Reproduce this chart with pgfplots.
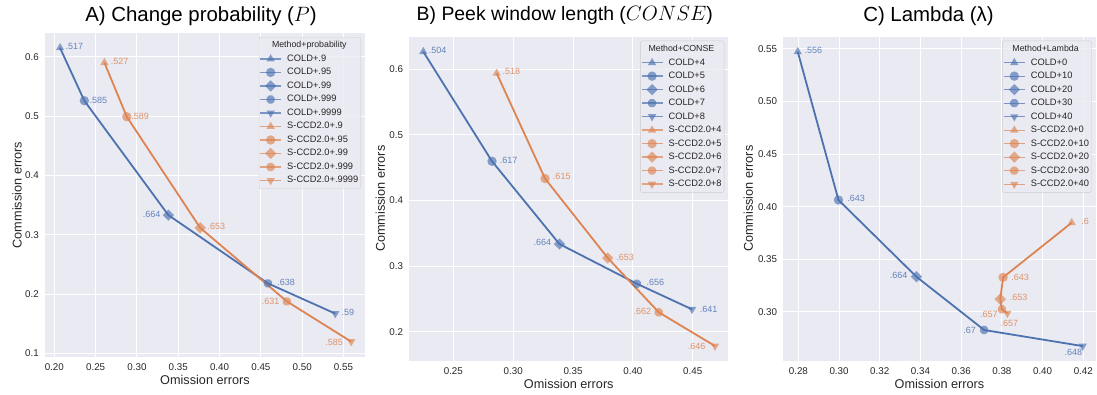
\documentclass[border=0pt]{standalone}
\usepackage{fontspec}
\setmainfont{Liberation Sans}
\usepackage{pgfplots}
\pgfplotsset{compat=1.18}
\definecolor{sbblue}{HTML}{4C72B0}
\definecolor{sborange}{HTML}{DD8452}
\definecolor{sbbg}{HTML}{EAEAF2}
\definecolor{sbtext}{HTML}{262626}
\definecolor{legdraw}{HTML}{CCCCCC}

\pgfdeclareplotmark{oct*}{%
  \pgfpathmoveto{\pgfpointpolar{22.5}{\pgfplotmarksize}}%
  \pgfpathlineto{\pgfpointpolar{67.5}{\pgfplotmarksize}}%
  \pgfpathlineto{\pgfpointpolar{112.5}{\pgfplotmarksize}}%
  \pgfpathlineto{\pgfpointpolar{157.5}{\pgfplotmarksize}}%
  \pgfpathlineto{\pgfpointpolar{202.5}{\pgfplotmarksize}}%
  \pgfpathlineto{\pgfpointpolar{247.5}{\pgfplotmarksize}}%
  \pgfpathlineto{\pgfpointpolar{292.5}{\pgfplotmarksize}}%
  \pgfpathlineto{\pgfpointpolar{337.5}{\pgfplotmarksize}}%
  \pgfpathclose
  \pgfusepathqfillstroke}

\tikzset{mk/.style={solid, draw opacity=0, fill opacity=0.65}}

\newcommand{\lblfont}{\fontsize{9}{10}\selectfont}
\newcommand{\legtitle}[2]{\fontsize{8.8}{10}\selectfont\hspace*{-#1}#2}

\pgfplotsset{
  sbaxis/.style={
    scale only axis,
    clip=false,
    axis background/.style={fill=sbbg},
    axis line style={draw=none},
    major tick length=0pt,
    grid=major,
    grid style={white, line width=1pt},
    tick label style={font=\fontsize{9.8}{11}\selectfont, text=sbtext},
    /pgf/number format/assume math mode=true,
    xticklabel style={inner sep=0pt, anchor=north, yshift=-6.5pt},
    yticklabel style={inner sep=0pt, anchor=east, xshift=-6pt},
    every axis x label/.style={at={(axis description cs:0.5,0)}, yshift=-23pt, anchor=center, font=\fontsize{12.7}{14}\selectfont, text=sbtext},
    xlabel={Omission errors},
    ylabel={Commission errors},
    legend cell align=left,
    legend style={at={(axis description cs:1,1)}, anchor=north east, xshift=-4pt, yshift=-4pt,
      fill=sbbg, fill opacity=0.8, text opacity=1, draw=legdraw, draw opacity=1,
      rounded corners=2pt, font=\fontsize{9.3}{11}\selectfont, text=sbtext,
      inner xsep=0.5pt, inner ysep=1.5pt, row sep=0pt, column sep=3.4pt,
      nodes={inner xsep=2pt, inner ysep=2.25pt, text height=7pt, text depth=2pt}},
    legend image code/.code={\draw[mark repeat=2,mark phase=2] plot coordinates {(0pt,0pt)(10.5pt,0pt)(21pt,0pt)};},
  },
  cold/.style={color=sbblue, draw opacity=0.7, line width=1.3pt},
  sccd/.style={color=sborange, draw opacity=0.7, line width=1.3pt},
  mtri/.style={mark=triangle*, mark size=4.8pt, mark options={mk}},
  mcirc/.style={mark=*, mark size=4.7pt, mark options={mk}},
  mdia/.style={mark=square*, mark size=4pt, mark options={mk, rotate=45}},
  mhex/.style={mark=oct*, mark size=4.4pt, mark options={mk}},
  mtrid/.style={mark=triangle*, mark size=4.8pt, mark options={mk, rotate=180}},
  cline/.style={color=sbblue, line width=1.8pt, forget plot, no marks},
  sline/.style={color=sborange, line width=1.8pt, forget plot, no marks},
}

% series style, marker style, coordinate, label, anchor, xshift, yshift
\newcommand{\pt}[7]{%
  \addplot[#1, #2, nodes near coords={#4},
    every node near coord/.style={anchor=#5, inner sep=0pt, xshift=#6, yshift=#7, font=\lblfont, text opacity=0.85}]
    coordinates {#3};}

\begin{document}
\begin{tikzpicture}

% ---------------- A ----------------
\begin{axis}[sbaxis, at={(45pt,37pt)}, anchor=south west, width=320pt, height=324pt,
  xmin=0.1887, xmax=0.576, ymin=0.0938, ymax=0.640,
  xtick={0.20,0.25,0.30,0.35,0.40,0.45,0.50,0.55},
  ytick={0.1,0.2,0.3,0.4,0.5,0.6},
  xticklabel style={/pgf/number format/fixed, /pgf/number format/fixed zerofill, /pgf/number format/precision=2},
  yticklabel style={/pgf/number format/fixed, /pgf/number format/fixed zerofill, /pgf/number format/precision=1},
  every axis y label/.style={at={(axis description cs:0,0.5)}, xshift=-28pt, rotate=90, anchor=center, font=\fontsize{12.7}{14}\selectfont, text=sbtext},
  title={A) Change probability ($P$)},
  every axis title/.style={at={(axis description cs:0.5,1)}, anchor=base, xshift=-4pt, yshift=11.3pt, font=\fontsize{20.4}{23}\selectfont, text=black},
]
\addlegendimage{empty legend}\addlegendentry{\legtitle{15.2pt}{Method+probability}}
\addplot[cline] coordinates {(0.2069,0.615)(0.2363,0.5258)(0.338,0.333)(0.4584,0.218)(0.540,0.167)};
\addplot[sline] coordinates {(0.2606,0.590)(0.2877,0.4988)(0.3765,0.3116)(0.4814,0.1876)(0.5593,0.1197)};
\pt{cold}{mtri}{(0.2069,0.615)}{.517}{west}{5pt}{1.5pt}\addlegendentry{COLD+.9}
\pt{cold}{mcirc}{(0.2363,0.5258)}{.585}{west}{4.7pt}{0pt}\addlegendentry{COLD+.95}
\pt{cold}{mdia}{(0.338,0.333)}{.664}{east}{-7.3pt}{1pt}\addlegendentry{COLD+.99}
\pt{cold}{mhex}{(0.4584,0.218)}{.638}{west}{9pt}{0.7pt}\addlegendentry{COLD+.999}
\pt{cold}{mtrid}{(0.540,0.167)}{.59}{west}{5.7pt}{0.7pt}\addlegendentry{COLD+.9999}
\pt{sccd}{mtri}{(0.2606,0.590)}{.527}{west}{5.7pt}{1pt}\addlegendentry{S-CCD2.0+.9}
\pt{sccd}{mcirc}{(0.2877,0.4988)}{.589}{west}{4pt}{0pt}\addlegendentry{S-CCD2.0+.95}
\pt{sccd}{mdia}{(0.3765,0.3116)}{.653}{west}{6.7pt}{1pt}\addlegendentry{S-CCD2.0+.99}
\pt{sccd}{mhex}{(0.4814,0.1876)}{.631}{east}{-6.7pt}{0pt}\addlegendentry{S-CCD2.0+.999}
\pt{sccd}{mtrid}{(0.5593,0.1197)}{.585}{east}{-7.7pt}{-0.7pt}\addlegendentry{S-CCD2.0+.9999}
\end{axis}

% ---------------- B ----------------
\begin{axis}[sbaxis, at={(409.3pt,33.3pt)}, anchor=south west, width=319pt, height=324pt,
  xmin=0.2132, xmax=0.4797, ymin=0.1558, ymax=0.6497,
  xtick={0.25,0.30,0.35,0.40,0.45},
  ytick={0.2,0.3,0.4,0.5,0.6},
  xticklabel style={/pgf/number format/fixed, /pgf/number format/fixed zerofill, /pgf/number format/precision=2},
  yticklabel style={/pgf/number format/fixed, /pgf/number format/fixed zerofill, /pgf/number format/precision=1},
  every axis y label/.style={at={(axis description cs:0,0.5)}, xshift=-29pt, rotate=90, anchor=center, font=\fontsize{12.7}{14}\selectfont, text=sbtext},
  title={B) Peek window length ($CONSE$)},
  every axis title/.style={at={(axis description cs:0.5,1)}, anchor=base, xshift=-4pt, yshift=16pt, font=\fontsize{19.4}{23}\selectfont, text=black},
]
\addlegendimage{empty legend}\addlegendentry{\legtitle{20.1pt}{Method+CONSE}}
\addplot[cline] coordinates {(0.2249,0.6268)(0.2823,0.4598)(0.3386,0.3337)(0.4032,0.2732)(0.4494,0.2341)};
\addplot[sline] coordinates {(0.2862,0.5939)(0.3266,0.4334)(0.379,0.3124)(0.4216,0.2296)(0.4686,0.1782)};
\pt{cold}{mtri}{(0.2249,0.6268)}{.504}{west}{5pt}{1pt}\addlegendentry{COLD+4}
\pt{cold}{mcirc}{(0.2823,0.4598)}{.617}{west}{7.3pt}{0.7pt}\addlegendentry{COLD+5}
\pt{cold}{mdia}{(0.3386,0.3337)}{.664}{east}{-7.7pt}{1.3pt}\addlegendentry{COLD+6}
\pt{cold}{mhex}{(0.4032,0.2732)}{.656}{west}{9.3pt}{1pt}\addlegendentry{COLD+7}
\pt{cold}{mtrid}{(0.4494,0.2341)}{.641}{west}{7.3pt}{0pt}\addlegendentry{COLD+8}
\pt{sccd}{mtri}{(0.2862,0.5939)}{.518}{west}{5.3pt}{1.7pt}\addlegendentry{S-CCD2.0+4}
\pt{sccd}{mcirc}{(0.3266,0.4334)}{.615}{west}{7.3pt}{1.7pt}\addlegendentry{S-CCD2.0+5}
\pt{sccd}{mdia}{(0.379,0.3124)}{.653}{west}{8pt}{0.3pt}\addlegendentry{S-CCD2.0+6}
\pt{sccd}{mhex}{(0.4216,0.2296)}{.662}{east}{-7pt}{0.7pt}\addlegendentry{S-CCD2.0+7}
\pt{sccd}{mtrid}{(0.4686,0.1782)}{.646}{east}{-9pt}{0pt}\addlegendentry{S-CCD2.0+8}
\end{axis}

% ---------------- C ----------------
\begin{axis}[sbaxis, at={(783.3pt,33.3pt)}, anchor=south west, width=312.4pt, height=324pt,
  xmin=0.2726, xmax=0.4261, ymin=0.2534, ymax=0.5617,
  xtick={0.28,0.30,0.32,0.34,0.36,0.38,0.40,0.42},
  ytick={0.30,0.35,0.40,0.45,0.50,0.55},
  xticklabel style={/pgf/number format/fixed, /pgf/number format/fixed zerofill, /pgf/number format/precision=2},
  yticklabel style={/pgf/number format/fixed, /pgf/number format/fixed zerofill, /pgf/number format/precision=2},
  every axis y label/.style={at={(axis description cs:0,0.5)}, xshift=-35pt, rotate=90, anchor=center, font=\fontsize{12.7}{14}\selectfont, text=sbtext},
  title={C) Lambda (λ)},
  every axis title/.style={at={(axis description cs:0.5,1)}, anchor=base, xshift=-11pt, yshift=15pt, font=\fontsize{20.4}{23}\selectfont, text=black},
]
\addlegendimage{empty legend}\addlegendentry{\legtitle{18.4pt}{Method+Lambda}}
\addplot[cline] coordinates {(0.2797,0.5474)(0.2997,0.4063)(0.338,0.3333)(0.3713,0.2826)(0.4197,0.2673)};
\addplot[sline] coordinates {(0.4143,0.3847)(0.3806,0.3327)(0.3792,0.3120)(0.380,0.3023)(0.3827,0.2985)};
\pt{cold}{mtri}{(0.2797,0.5474)}{.556}{west}{6.3pt}{1pt}\addlegendentry{COLD+0}
\pt{cold}{mcirc}{(0.2997,0.4063)}{.643}{west}{8.3pt}{1.3pt}\addlegendentry{COLD+10}
\pt{cold}{mdia}{(0.338,0.3333)}{.664}{east}{-8.3pt}{1.7pt}\addlegendentry{COLD+20}
\pt{cold}{mhex}{(0.3713,0.2826)}{.67}{east}{-7.7pt}{0pt}\addlegendentry{COLD+30}
\pt{cold}{mtrid}{(0.4197,0.2673)}{.648}{east}{0pt}{-6.7pt}\addlegendentry{COLD+40}
\pt{sccd}{mtri}{(0.4143,0.3847)}{.6}{west}{9pt}{1.7pt}\addlegendentry{S-CCD2.0+0}
\pt{sccd}{mcirc}{(0.3806,0.3327)}{.643}{west}{7.7pt}{0pt}\addlegendentry{S-CCD2.0+10}
\pt{sccd}{mdia}{(0.3792,0.3120)}{.653}{west}{9pt}{1.3pt}\addlegendentry{S-CCD2.0+20}
\pt{sccd}{mhex}{(0.380,0.3023)}{.657}{east}{-3.7pt}{-5pt}\addlegendentry{S-CCD2.0+30}
\pt{sccd}{mtrid}{(0.3827,0.2985)}{.657}{west}{-7.3pt}{-10pt}\addlegendentry{S-CCD2.0+40}
\end{axis}

\pgfresetboundingbox
\path (0pt,0pt) rectangle (1097pt,394pt);
\end{tikzpicture}
\end{document}
